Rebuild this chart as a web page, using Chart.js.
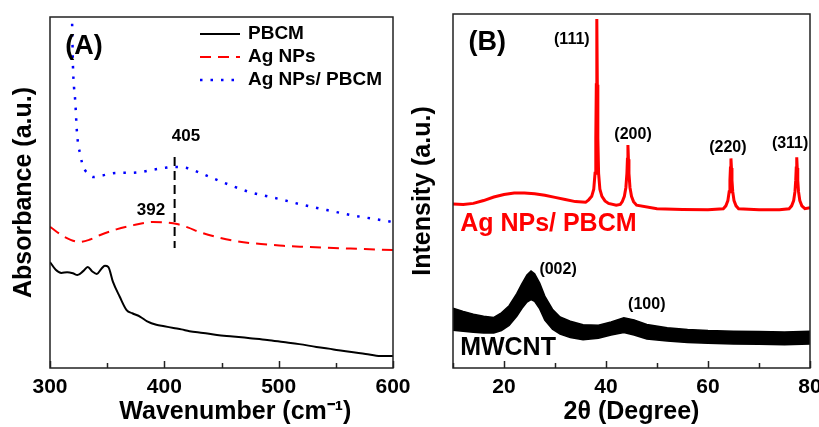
<!DOCTYPE html>
<html>
<head>
<meta charset="utf-8">
<script src="https://cdn.jsdelivr.net/npm/chart.js@4.4.1/dist/chart.umd.min.js"></script>
<style>
  html, body { margin: 0; padding: 0; background: #fff; overflow: hidden; }
  body { width: 819px; height: 427px; position: relative; }
  canvas { position: absolute; top: 0; }
  #uv { left: 0; }
  #xrd { left: 408px; }
</style>
</head>
<body>
<canvas id="uv" width="420" height="427"></canvas>
<canvas id="xrd" width="422" height="427"></canvas>
<script>
// ====== (A) UV-vis ======
const pbcmX = [300, 305, 310, 315, 320, 324, 329, 333, 337, 341, 345, 348, 351, 355, 361, 367, 372, 379, 385, 393, 400, 408, 415, 422, 434, 446, 460, 475, 490, 504, 518, 533, 548, 562, 576, 589, 600];
const pbcmY = [30.2, 28.0, 27.1, 27.3, 27.0, 26.5, 27.6, 28.8, 27.5, 26.8, 28.3, 29.1, 28.8, 24.6, 20.3, 16.5, 15.6, 14.6, 13.3, 12.3, 11.9, 11.4, 11.0, 10.5, 10.0, 9.4, 9.0, 8.5, 8.0, 7.4, 6.8, 6.0, 5.3, 4.6, 4.0, 3.4, 3.4];

const agX = [300, 313, 326, 335, 344, 358, 373, 390, 400, 411, 421, 431, 446, 460, 475, 490, 504, 525, 548, 575, 600];
const agY = [40.2, 37.3, 35.9, 36.6, 37.9, 39.5, 40.7, 41.6, 41.5, 41.0, 40.0, 38.7, 37.3, 36.3, 35.6, 35.2, 34.8, 34.5, 34.2, 33.9, 33.6];

const agPbcmX = [317, 319.2, 320.1, 321, 322, 323.6, 325, 326.2, 328, 330.6, 334, 337.6, 345, 358.6, 370, 378.7, 390, 400, 407.6, 419.8, 432, 446, 460, 474.9, 489, 503.8, 518, 533.5, 548, 562.4, 581, 600];
const agPbcmY = [110, 100, 85.8, 80, 76.4, 67, 63, 61.3, 58.5, 56.4, 55.2, 54.4, 54.8, 55.6, 55.6, 55.8, 56.5, 57.0, 57.3, 57.0, 55.5, 53.6, 51.8, 50.1, 49.0, 47.9, 46.7, 45.6, 44.6, 43.6, 42.6, 41.6];

const markX = [409, 409];
const markY = [60.1, 34.2];

const uvLegend = ['PBCM', 'Ag NPs', 'Ag NPs/ PBCM'];

// ====== (B) XRD ======
const xrdAgX = [10, 12, 14, 16, 18, 20, 22, 24, 26, 28, 30, 32, 34, 36,
    36.6, 37.2, 37.6, 37.85, 38.0, 38.1, 38.2, 38.3, 38.4, 38.55, 38.8, 39.2, 39.8, 40.5, 42,
    42.8, 43.2, 43.6, 43.9, 44.1, 44.2, 44.3, 44.4, 44.5, 44.7, 45.0, 45.4, 46.0, 50, 55, 60,
    63.0, 63.5, 63.9, 64.15, 64.3, 64.4, 64.5, 64.6, 64.7, 64.85, 65.1, 65.5, 66.0, 70, 74,
    75.9, 76.4, 76.8, 77.05, 77.2, 77.3, 77.4, 77.5, 77.6, 77.75, 78.0, 78.4, 79.0, 80];
const xrdAgY = [46.3, 46.2, 46.5, 47.3, 48.3, 49.0, 49.4, 49.4, 49.2, 48.8, 48.2, 47.6, 47.0, 46.8,
    47.5, 48.5, 50.5, 55, 65, 80, 98.6, 80, 65, 55, 50.5, 48.5, 47.2, 46.5, 46.0,
    46.2, 47.0, 48.5, 51, 55, 59, 63.0, 59, 55, 51, 48.5, 47.0, 46.0, 45.0, 44.8, 44.7,
    45.0, 45.8, 47.3, 49.8, 53, 56.5, 59.2, 56.5, 53, 49.8, 47.3, 45.8, 45.0, 44.7, 44.7,
    45.0, 45.8, 47.3, 49.8, 53, 56.5, 59.5, 56.5, 53, 49.8, 47.3, 45.8, 45.0, 45.3];

// MWCNT trace is very noisy: kept as upper / lower edge of the noise band
const mwX  = [10, 12, 14, 16, 18, 19.5, 21, 22.5, 23.5, 24.5, 25.3, 26, 27, 28, 29.5, 31, 33, 35.5, 38.5, 41, 43.5, 45.5, 48, 52, 56, 60, 65, 70, 75, 80];
const mwUp = [16.9, 16.0, 15.2, 14.6, 14.3, 15.6, 17.6, 21.0, 23.8, 26.3, 27.4, 26.6, 24.0, 20.3, 16.6, 14.4, 13.2, 12.2, 12.1, 13.0, 14.2, 13.6, 12.3, 11.4, 10.9, 10.6, 10.4, 10.3, 10.2, 10.4];
const mwLo = [10.7, 10.4, 10.1, 9.9, 9.9, 10.6, 12.0, 14.6, 16.8, 18.6, 19.3, 18.8, 16.7, 13.5, 11.0, 9.6, 8.6, 8.0, 8.4, 9.3, 10.0, 9.3, 8.2, 7.6, 7.2, 7.0, 6.8, 6.7, 6.6, 6.8];

const FONT = '"Liberation Sans", Arial, sans-serif';
Chart.defaults.font.family = FONT;
Chart.defaults.font.weight = 'bold';
Chart.defaults.color = '#000';

function pts(xs, ys) {
    return xs.map((x, i) => ({ x: x, y: ys[i] }));
}

// box around plot + inward tick marks on the bottom axis
function drawFrame(chart) {
    const ctx = chart.ctx;
    const a = chart.chartArea;
    const x = chart.scales.x;
    ctx.save();
    ctx.strokeStyle = '#222';
    ctx.lineWidth = 1.5;
    x.ticks.forEach(t => {
        const px = Math.round(x.getPixelForValue(t.value)) + 0.5;
        const len = t.label === '' ? 5 : 7;
        ctx.beginPath();
        ctx.moveTo(px, a.bottom);
        ctx.lineTo(px, a.bottom - len);
        ctx.stroke();
    });
    ctx.strokeRect(a.left, a.top, a.right - a.left, a.bottom - a.top);
    ctx.restore();
}

function drawNotes(chart, notes) {
    const ctx = chart.ctx;
    const sx = chart.scales.x, sy = chart.scales.y;
    ctx.save();
    ctx.textBaseline = 'middle';
    notes.forEach(n => {
        ctx.font = 'bold ' + n.size + 'px ' + FONT;
        ctx.fillStyle = n.color || '#000';
        ctx.textAlign = n.align || 'center';
        ctx.fillText(n.text, sx.getPixelForValue(n.x), sy.getPixelForValue(n.y));
    });
    ctx.restore();
}

function baseScales(xmin, xmax, step, major, xTitle, yTitle, yWidth, yPad) {
    return {
        x: {
            type: 'linear', min: xmin, max: xmax,
            grid: { display: false, drawTicks: false },
            border: { display: false },
            ticks: {
                stepSize: step, padding: 7,
                font: { size: 21, weight: 'bold' },
                callback: v => (v % major === 0 ? v : '')
            },
            title: { display: true, text: xTitle, font: { size: 25, weight: 'bold' }, padding: { top: 0, bottom: 0 } },
            afterFit: s => { s.height = 59; }
        },
        y: {
            min: 0, max: 100,
            grid: { display: false, drawTicks: false },
            border: { display: false },
            ticks: { display: false },
            title: { display: true, text: yTitle, font: { size: 25, weight: 'bold' }, padding: { top: yPad, bottom: 0 } },
            afterFit: s => { s.width = yWidth; }
        }
    };
}

const common = {
    responsive: false,
    animation: false,
    devicePixelRatio: 1,
    elements: { point: { radius: 0 } },
    plugins: { legend: { display: false }, tooltip: { enabled: false } }
};

// ---- panel A ----
new Chart(document.getElementById('uv'), {
    type: 'line',
    data: {
        datasets: [
            { label: uvLegend[0], data: pts(pbcmX, pbcmY), borderColor: '#000', borderWidth: 2, cubicInterpolationMode: 'monotone' },
            { label: uvLegend[1], data: pts(agX, agY), borderColor: '#ff0000', borderWidth: 2, borderDash: [11, 7], cubicInterpolationMode: 'monotone' },
            { label: uvLegend[2], data: pts(agPbcmX, agPbcmY), borderColor: '#0000ff', borderWidth: 2.5, borderDash: [2.5, 8], cubicInterpolationMode: 'monotone' },
            { label: 'marker', data: pts(markX, markY), borderColor: '#000', borderWidth: 2, borderDash: [9, 5] }
        ]
    },
    options: Object.assign({}, common, {
        layout: { padding: { top: 17, right: 27, left: 0, bottom: 0 } },
        // leading spaces nudge the centred title right, like the original
        scales: baseScales(300, 600, 50, 100, '    Wavenumber (cm\u207B\u00B9)', 'Absorbance (a.u.)', 50, 9)
    }),
    plugins: [{
        id: 'uvDeco',
        afterDraw(chart) {
            drawFrame(chart);
            drawNotes(chart, [
                { text: '(A)', x: 329.7, y: 91.5, size: 27 },
                { text: '405', x: 419, y: 66.1, size: 17 },
                { text: '392', x: 388.3, y: 45.0, size: 17 }
            ]);
            // legend, inside the top right of the plot
            const ctx = chart.ctx, a = chart.chartArea;
            const styles = chart.data.datasets.slice(0, 3);
            ctx.save();
            styles.forEach((d, i) => {
                const y = a.top + 17 + i * 23;
                ctx.strokeStyle = d.borderColor;
                ctx.lineWidth = d.borderWidth;
                ctx.setLineDash(d.borderDash || []);
                ctx.beginPath();
                ctx.moveTo(a.left + 150, y);
                ctx.lineTo(a.left + 190, y);
                ctx.stroke();
                ctx.setLineDash([]);
                ctx.font = 'bold 19px ' + FONT;
                ctx.fillStyle = '#000';
                ctx.textAlign = 'left';
                ctx.textBaseline = 'middle';
                ctx.fillText(d.label, a.left + 198, y);
            });
            ctx.restore();
        }
    }]
});

// ---- panel B ----
new Chart(document.getElementById('xrd'), {
    type: 'line',
    data: {
        datasets: [
            { label: 'Ag NPs/ PBCM', data: pts(xrdAgX, xrdAgY), borderColor: '#ff0000', borderWidth: 3 },
            { label: 'MWCNT top', data: pts(mwX, mwUp), borderColor: '#000', borderWidth: 1.5, fill: false },
            { label: 'MWCNT', data: pts(mwX, mwLo), borderColor: '#000', borderWidth: 1.5, backgroundColor: '#000', fill: '-1' }
        ]
    },
    options: Object.assign({}, common, {
        layout: { padding: { top: 14, right: 20, left: 0, bottom: 0 } },
        scales: baseScales(10, 80, 10, 20, '2\u03B8 (Degree)', 'Intensity (a.u.)', 45, 0)
    }),
    plugins: [{
        id: 'xrdDeco',
        afterDraw(chart) {
            drawFrame(chart);
            drawNotes(chart, [
                { text: '(B)', x: 16.7, y: 91.8, size: 27 },
                { text: '(111)', x: 33.3, y: 92.9, size: 16 },
                { text: '(200)', x: 45.3, y: 65.8, size: 16 },
                { text: '(220)', x: 63.9, y: 62.4, size: 16 },
                { text: '(311)', x: 76.1, y: 63.3, size: 16 },
                { text: '(002)', x: 30.6, y: 27.7, size: 16 },
                { text: '(100)', x: 48.0, y: 17.8, size: 16 },
                { text: 'Ag NPs/ PBCM', x: 11.4, y: 40.7, size: 25, align: 'left', color: '#ff0000' },
                { text: 'MWCNT', x: 11.4, y: 5.6, size: 25, align: 'left' }
            ]);
        }
    }]
});
</script>
</body>
</html>
